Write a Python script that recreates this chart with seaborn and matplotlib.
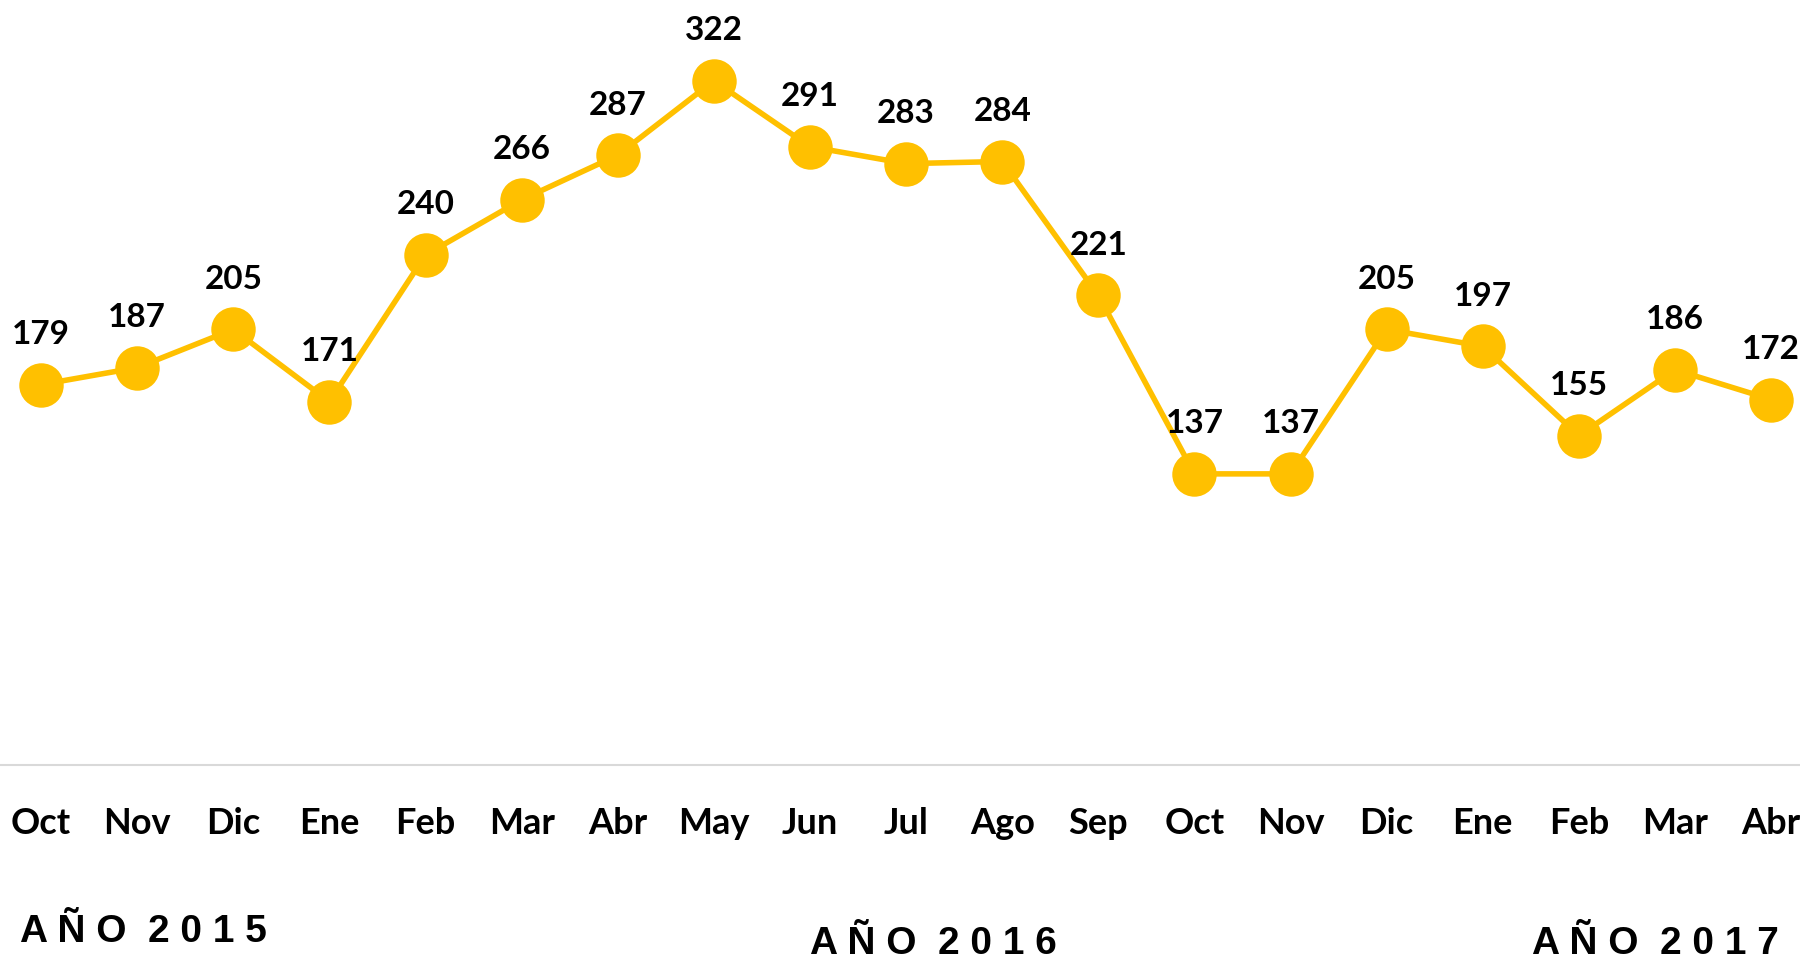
import matplotlib
matplotlib.use("Agg")
import matplotlib.pyplot as plt
import seaborn as sns
import pandas as pd

months = ["Oct", "Nov", "Dic", "Ene", "Feb", "Mar", "Abr", "May", "Jun", "Jul",
          "Ago", "Sep", "Oct", "Nov", "Dic", "Ene", "Feb", "Mar", "Abr"]
values = [179, 187, 205, 171, 240, 266, 287, 322, 291, 283,
          284, 221, 137, 137, 205, 197, 155, 186, 172]
year_labels = ["A Ñ O  2 0 1 5", "A Ñ O  2 0 1 6", "A Ñ O  2 0 1 7"]

sns.set_style("white")
plt.rcParams['font.family'] = ['Lato', 'DejaVu Sans']

df = pd.DataFrame({"pos": list(range(len(values))), "value": values})

fig = plt.figure(figsize=(18, 9.6), dpi=100)
ax = fig.add_axes([0, 195 / 960, 1, 765 / 960])

color = "#FFC000"
sns.lineplot(data=df, x="pos", y="value", ax=ax, color=color, linewidth=4,
             marker="o", markersize=32, markeredgewidth=0, markerfacecolor=color)

for i, v in enumerate(values):
    ax.annotate(str(v), (i, v), xytext=(0, 36), textcoords="offset points",
                ha="center", va="center", fontsize=24, fontweight="bold",
                color="black")

ax.set_ylim(0, 360)
ax.set_xlim(-0.427, 18.30)
ax.set_xticks(range(len(months)))
ax.set_xticklabels(months, fontsize=26, fontweight="bold", color="black")
ax.tick_params(axis="x", length=0, pad=30, colors="black")
ax.set_yticks([])
ax.set_xlabel("")
ax.set_ylabel("")
for s in ["top", "left", "right"]:
    ax.spines[s].set_visible(False)
ax.spines["bottom"].set_color("#D9D9D9")
ax.spines["bottom"].set_linewidth(1.5)

year_x = [143 / 1800, 933 / 1800, 1655 / 1800]
year_y = [1 - 932 / 960, 1 - 944 / 960, 1 - 944 / 960]
for lbl, x, y in zip(year_labels, year_x, year_y):
    fig.text(x, y, lbl, ha="center", va="center", fontsize=28, fontweight="bold",
             color="black",
             family=["Liberation Sans Narrow", "Liberation Sans", "DejaVu Sans"])

fig.savefig("out.png", dpi=100)
